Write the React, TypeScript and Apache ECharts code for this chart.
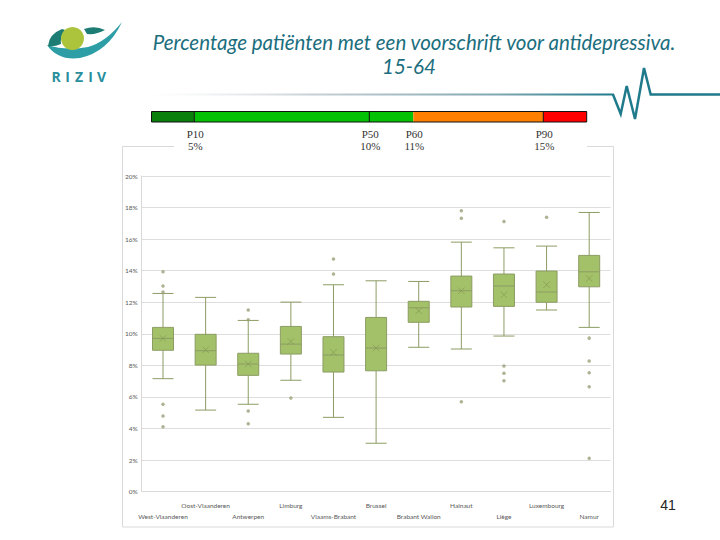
import React, { useEffect, useRef } from 'react';
import * as echarts from 'echarts';

const categories = [
  'West-Vlaanderen', 'Oost-Vlaanderen', 'Antwerpen', 'Limburg', 'Vlaams-Brabant', 'Brussel',
  'Brabant Wallon', 'Hainaut', 'Liège', 'Luxembourg', 'Namur',
];
const whiskerLow = [7.16, 5.17, 5.54, 7.06, 4.71, 3.07, 9.15, 9.04, 9.86, 11.51, 10.41];
const q1 = [8.96, 8.02, 7.37, 8.72, 7.58, 7.66, 10.73, 11.70, 11.74, 12.0, 12.98];
const median = [9.71, 8.93, 8.09, 9.35, 8.66, 9.10, 11.65, 12.73, 13.03, 12.65, 13.93];
const q3 = [10.41, 9.97, 8.77, 10.47, 9.82, 11.04, 12.06, 13.66, 13.79, 13.98, 14.97];
const whiskerHigh = [12.56, 12.31, 10.85, 12.01, 13.11, 13.36, 13.32, 15.81, 15.45, 15.56, 17.69];
const means = [9.71, 8.99, 8.09, 9.52, 8.83, 9.10, 11.46, 12.73, 12.48, 13.11, 13.51];
const outliers: [number, number][] = [
  [0, 13.93], [0, 13.03], [0, 12.65], [0, 5.54], [0, 4.79], [0, 4.12],
  [2, 11.51], [2, 10.9], [2, 5.11], [2, 4.31],
  [3, 5.93],
  [4, 14.74], [4, 13.79],
  [7, 17.80], [7, 17.33], [7, 5.70],
  [8, 17.12], [8, 7.96], [8, 7.50], [8, 7.03],
  [9, 17.38],
  [10, 9.73], [10, 8.28], [10, 7.54], [10, 6.65], [10, 2.12],
];
const yMax = 20;
const yInterval = 2;
const percentileNames = ['P10', 'P50', 'P60', 'P90'];
const percentileValues = ['5%', '10%', '11%', '15%'];
const titleLine1 = 'Percentage patiënten met een voorschrift voor antidepressiva.';
const titleLine2 = '15-64';
const logoLetters = ['R', 'I', 'Z', 'I', 'V'];
const pageNumber = '41';

echarts.graphic.registerShape(
  'rizivSwoosh',
  echarts.graphic.extendPath('M47 45 Q58 61 80 58 Q108 52 122 22 Q106 42 88 47 Q66 51 47 45 Z', {})
);
echarts.graphic.registerShape(
  'rizivLeafL',
  echarts.graphic.extendPath('M48 46 Q49 34 62 29 L65 30 Q60 37 61 44 Q54 47 48 46 Z', {})
);
echarts.graphic.registerShape(
  'rizivLeafR',
  echarts.graphic.extendPath('M84 29 Q95 25 105 30 Q96 35 87 34 Z', {})
);

export default function App() {
  const ref = useRef<HTMLDivElement>(null);
  useEffect(() => {
    if (!ref.current) return;
    const chart = echarts.init(ref.current, undefined, { renderer: 'svg' });
    const teal = '#1f7a8c';
    const barY = 111.5;
    const barH = 10.5;
    const pX = [194.3, 369.3, 413.3, 543.3];
    const letterX = [56, 67.5, 79, 90.5, 101.5];
    const graphics: any[] = [
      // logo
      { type: 'rizivSwoosh', x: 0, y: 0, style: { fill: '#2e9ea6' }, z: 10 },
      { type: 'rizivLeafL', x: 0, y: 0, style: { fill: '#1d7d74' }, z: 10 },
      { type: 'rizivLeafR', x: 0, y: 0, style: { fill: '#1d7d74' }, z: 10 },
      { type: 'circle', shape: { cx: 72.5, cy: 38.5, r: 11.5 }, style: { fill: '#abc43c' }, z: 11 },
      ...logoLetters.map((ch, i) => ({
        type: 'text', z: 10,
        style: {
          text: ch, x: letterX[i], y: 76.5, align: 'center', verticalAlign: 'middle',
          fontSize: 14, fontWeight: 'bold', fontFamily: 'Open Sans', fill: '#2a8f9c',
        },
      })),
      // title
      {
        type: 'text', z: 10,
        style: {
          text: titleLine1, x: 414, y: 42, align: 'center', verticalAlign: 'middle',
          fontSize: 20.5, fontStyle: 'italic', fontFamily: 'Lato', fill: '#1b6e7e',
        },
      },
      {
        type: 'text', z: 10,
        style: {
          text: titleLine2, x: 409, y: 66, align: 'center', verticalAlign: 'middle',
          fontSize: 20.5, fontStyle: 'italic', fontFamily: 'Lato', fill: '#1b6e7e',
        },
      },
      // header line
      {
        type: 'rect', z: 10,
        shape: { x: 150, y: 93.5, width: 464, height: 2 },
        style: {
          fill: new echarts.graphic.LinearGradient(0, 0, 1, 0, [
            { offset: 0, color: 'rgba(225,230,233,0)' },
            { offset: 0.35, color: '#c8d0d5' },
            { offset: 0.75, color: '#7ea6b0' },
            { offset: 1, color: teal },
          ]),
        },
      },
      {
        type: 'polyline', z: 10,
        shape: { points: [[613, 94.5], [620.7, 114], [626.7, 86], [635, 119], [644, 68], [650.7, 94.5], [720, 94.5]] },
        style: { stroke: teal, lineWidth: 2.5, fill: 'none', lineJoin: 'miter' },
      },
      // panel border
      {
        type: 'rect', z: 0,
        shape: { x: 122.5, y: 146.5, width: 491, height: 380.5 },
        style: { fill: 'none', stroke: '#d9d9d9', lineWidth: 1 },
      },
      // legend cover
      {
        type: 'rect', z: 90,
        shape: { x: 174, y: 124, width: 413, height: 27 },
        style: { fill: '#ffffff' },
      },
      // color bar
      { type: 'rect', z: 100, shape: { x: 151.5, y: barY, width: pX[0] - 151.5, height: barH }, style: { fill: '#0b7f0b' } },
      { type: 'rect', z: 100, shape: { x: pX[0], y: barY, width: pX[2] - pX[0], height: barH }, style: { fill: '#05c105' } },
      { type: 'rect', z: 100, shape: { x: pX[2], y: barY, width: pX[3] - pX[2], height: barH }, style: { fill: '#ff8000' } },
      { type: 'rect', z: 100, shape: { x: pX[3], y: barY, width: 586.7 - pX[3], height: barH }, style: { fill: '#ff0000' } },
      { type: 'rect', z: 101, shape: { x: 151.5, y: barY, width: 586.7 - 151.5, height: barH }, style: { fill: 'none', stroke: '#111', lineWidth: 1 } },
      ...[pX[0], pX[1], pX[3]].map((x) => ({
        type: 'line', z: 101,
        shape: { x1: x, y1: barY, x2: x, y2: barY + barH },
        style: { stroke: '#111', lineWidth: 1 },
      })),
      ...percentileNames.map((n, i) => ({
        type: 'text', z: 101,
        style: {
          text: n + '\n' + percentileValues[i], x: pX[i] + 1, y: 140, align: 'center', verticalAlign: 'middle',
          fontSize: 11, fontFamily: 'Liberation Serif', fill: '#333333', lineHeight: 12,
        },
      })),
      // page number
      {
        type: 'text', z: 10,
        style: {
          text: pageNumber, x: 668, y: 505, align: 'center', verticalAlign: 'middle',
          fontSize: 14, fontFamily: 'Liberation Sans', fill: '#222222',
        },
      },
    ];

    chart.setOption({
      animation: false,
      backgroundColor: '#ffffff',
      graphic: { elements: graphics },
      grid: { left: 141.7, right: 109.5, top: 176, bottom: 48.3 },
      xAxis: {
        type: 'category',
        data: categories,
        boundaryGap: true,
        axisLine: { show: true, lineStyle: { color: '#d9d9d9' } },
        axisTick: { show: false },
        splitLine: { show: false },
        axisLabel: {
          interval: 0,
          hideOverlap: false,
          margin: 8,
          fontSize: 6.5,
          lineHeight: 11,
          fontFamily: 'Lato',
          color: '#595959',
          formatter: (v: string, i: number) => (i % 2 === 0 ? '\n' + v : v),
        },
      },
      yAxis: {
        type: 'value',
        min: 0,
        max: yMax,
        interval: yInterval,
        axisLine: { show: true, lineStyle: { color: '#d9d9d9' } },
        axisTick: { show: false },
        splitLine: { show: true, lineStyle: { color: '#dedede', width: 1 } },
        axisLabel: { formatter: '{value}%', fontSize: 6.5, fontFamily: 'Lato', color: '#595959', margin: 4 },
      },
      series: [
        {
          type: 'boxplot',
          data: categories.map((_, i) => [whiskerLow[i], q1[i], median[i], q3[i], whiskerHigh[i]]),
          boxWidth: [21, 21],
          itemStyle: { color: '#a3c168', borderColor: '#8c9c64', borderWidth: 1 },
        },
        {
          type: 'scatter',
          data: outliers,
          symbol: 'circle',
          symbolSize: 3.5,
          itemStyle: { color: '#9b9f78' },
        },
        {
          type: 'scatter',
          data: means.map((m, i) => [i, m]),
          symbol: 'path://M0,0L10,10M10,0L0,10',
          symbolSize: 6.5,
          itemStyle: { color: 'none', borderColor: '#7f9650', borderWidth: 0.8 },
        },
      ],
    });
    return () => chart.dispose();
  }, []);
  return <div ref={ref} style={{ position: 'absolute', left: 0, top: 0, width: 720, height: 540 }} />;
}
